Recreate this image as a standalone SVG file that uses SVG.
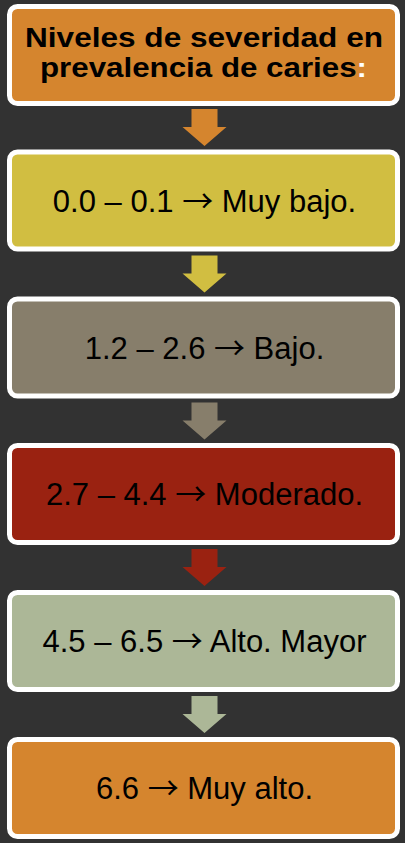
<svg xmlns="http://www.w3.org/2000/svg" width="405" height="843" viewBox="0 0 405 843">
<style>
.box{stroke:#FFFFFF;stroke-width:5}
.t{font-family:"Liberation Sans",Arial,sans-serif;font-size:31px;fill:#000000;text-anchor:middle}
.ar{font-family:"Noto Sans CJK JP","Liberation Sans",sans-serif}
.title{font-family:"Liberation Sans",Arial,sans-serif;font-size:27px;font-weight:bold;fill:#000000}
</style>
<rect width="405" height="843" fill="#323232"/>
<g id="connectors">
<polygon fill="#D5852E" points="191.5,109 217.5,109 217.5,127 226.5,127 204.5,146 182.5,127 191.5,127"/>
<polygon fill="#D1BE41" points="191.5,255.5 217.5,255.5 217.5,273.5 226.5,273.5 204.5,292.5 182.5,273.5 191.5,273.5"/>
<polygon fill="#877E6B" points="191.5,402.5 217.5,402.5 217.5,420.5 226.5,420.5 204.5,439.5 182.5,420.5 191.5,420.5"/>
<polygon fill="#9A2211" points="191.5,549 217.5,549 217.5,567 226.5,567 204.5,586 182.5,567 191.5,567"/>
<polygon fill="#ACB797" points="191.5,696 217.5,696 217.5,714 226.5,714 204.5,733 182.5,714 191.5,714"/>
</g>
<g id="node-title">
<rect class="box" x="9.5" y="6.5" width="388" height="97" rx="8" fill="#D5852E"/>
<text class="title" x="25" y="47" textLength="358" lengthAdjust="spacingAndGlyphs">Niveles de severidad en</text>
<text class="title" x="40" y="77" textLength="327" lengthAdjust="spacingAndGlyphs">prevalencia de caries<tspan fill="#FFFFFF">:</tspan></text>
</g>
<g id="node-muy-bajo">
<rect class="box" x="9.5" y="152" width="388" height="97" rx="8" fill="#D1BE41"/>
<text class="t" x="204.5" y="211.7">0.0 – 0.1 <tspan class="ar">→</tspan> Muy bajo.</text>
</g>
<g id="node-bajo">
<rect class="box" x="9.5" y="299" width="388" height="97" rx="8" fill="#877E6B"/>
<text class="t" x="204.5" y="358.5">1.2 – 2.6 <tspan class="ar">→</tspan> Bajo.</text>
</g>
<g id="node-moderado">
<rect class="box" x="9.5" y="445.5" width="388" height="97" rx="8" fill="#9A2211"/>
<text class="t" x="204.5" y="505">2.7 – 4.4 <tspan class="ar">→</tspan> Moderado.</text>
</g>
<g id="node-alto">
<rect class="box" x="9.5" y="592.5" width="388" height="97" rx="8" fill="#ACB797"/>
<text class="t" x="204.5" y="652">4.5 – 6.5 <tspan class="ar">→</tspan> Alto. Mayor</text>
</g>
<g id="node-muy-alto">
<rect class="box" x="9.5" y="739.5" width="388" height="97" rx="8" fill="#D5852E"/>
<text class="t" x="204.5" y="799">6.6 <tspan class="ar">→</tspan> Muy alto.</text>
</g>
</svg>
